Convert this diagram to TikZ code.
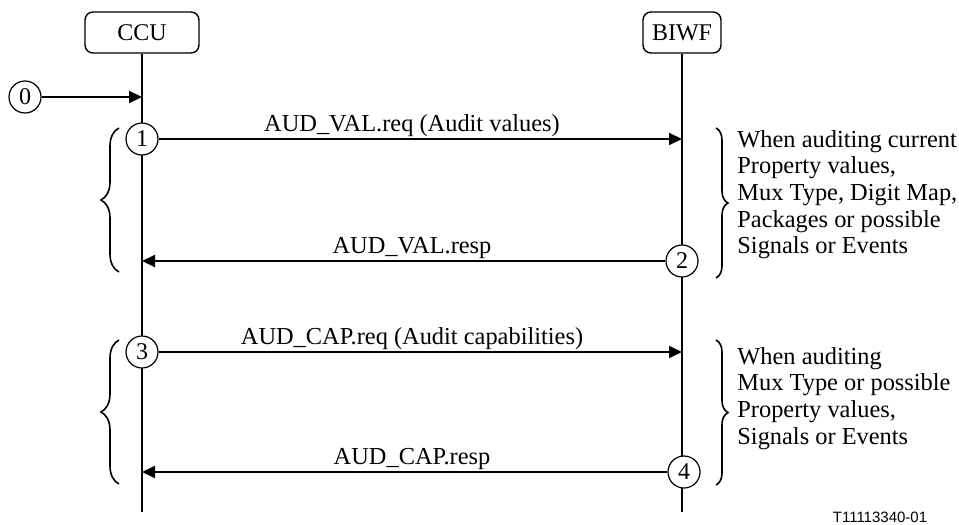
\documentclass[tikz,border=0pt]{standalone}
\usepackage{fontspec}
\setmainfont{Liberation Serif}
\newfontfamily\figfont{Liberation Sans}
\usetikzlibrary{arrows.meta,decorations.pathreplacing,calc}
\tikzset{ent/.style={draw,rounded corners=4pt,line width=0.7pt,minimum height=20.5pt,inner sep=2pt,font=\fontsize{12}{14}\selectfont},
num/.style={draw,circle,line width=0.6pt,minimum size=16pt,inner sep=0pt,fill=white,font=\fontsize{12}{14}\selectfont},
life/.style={line width=1pt},
msg/.style={-{Triangle[length=6.5pt,width=6pt]},line width=1pt},
lbl/.style={anchor=base,yshift=4pt,inner sep=0pt,font=\fontsize{12.2}{14}\selectfont},
lbrace/.style={decorate,decoration={brace,amplitude=9pt},line width=0.8pt},
rbrace/.style={decorate,decoration={brace,amplitude=6pt},line width=0.8pt},
note/.style={align=left,anchor=north west,inner sep=0pt,font=\fontsize{12.2}{13.33}\selectfont}}

\begin{document}
\begin{tikzpicture}[x=0.5pt,y=-0.5pt]
\useasboundingbox (0,0) rectangle (959,525);
% entities and lifelines
\node[ent,minimum width=57pt] (ccu) at (142,32.5) {CCU};
\node[ent,minimum width=39pt] (biwf) at (682,32.5) {BIWF};
\coordinate (ccuEnd) at (142,512); \coordinate (biwfEnd) at (682,512);
\draw[life] (ccu)--(ccuEnd); \draw[life] (biwf)--(biwfEnd);
% numbered steps
\node[num] (n0) at (25,97) {0};
\node[num] (n1) at (142,139) {1};
\node[num] (n2) at (682,261) {2};
\node[num] (n3) at (142,352) {3};
\node[num] (n4) at (684,472) {4};
% messages
\draw[msg] (n0)--(n0-|ccu);
\draw[msg] (n1)--(n1-|biwf); \draw[msg] (n2)--(n2-|ccu);
\draw[msg] (n3)--(n3-|biwf); \draw[msg] (n4)--(n4-|ccu);
\node[lbl] (valReq) at ($(n1)!.5!(n1-|biwf)$) {AUD\_VAL.req (Audit values)};
\node[lbl] (valResp) at ($(n2-|ccu)!.5!(n2-|biwf)$) {AUD\_VAL.resp};
\node[lbl] (capReq) at ($(n3)!.5!(n3-|biwf)$) {AUD\_CAP.req (Audit capabilities)};
\node[lbl] (capResp) at ($(n4-|ccu)!.5!(n4-|biwf)$) {AUD\_CAP.resp};
% braces
\draw[lbrace] (119,272)--(119,128); \draw[lbrace] (119,484)--(119,340);
\draw[rbrace] (716,128)--(716,278); \draw[rbrace] (716,340)--(716,485);
\node[note] (valNote) at (737,130) {When auditing current\\Property values,\\Mux Type, Digit Map,\\Packages or possible\\Signals or Events};
\node[note] (capNote) at (737,347) {When auditing\\Mux Type or possible\\Property values,\\Signals or Events};
\node[font=\figfont\fontsize{7.5}{9}\selectfont] (figId) at (880,517) {T11113340-01};
\end{tikzpicture}
\end{document}
